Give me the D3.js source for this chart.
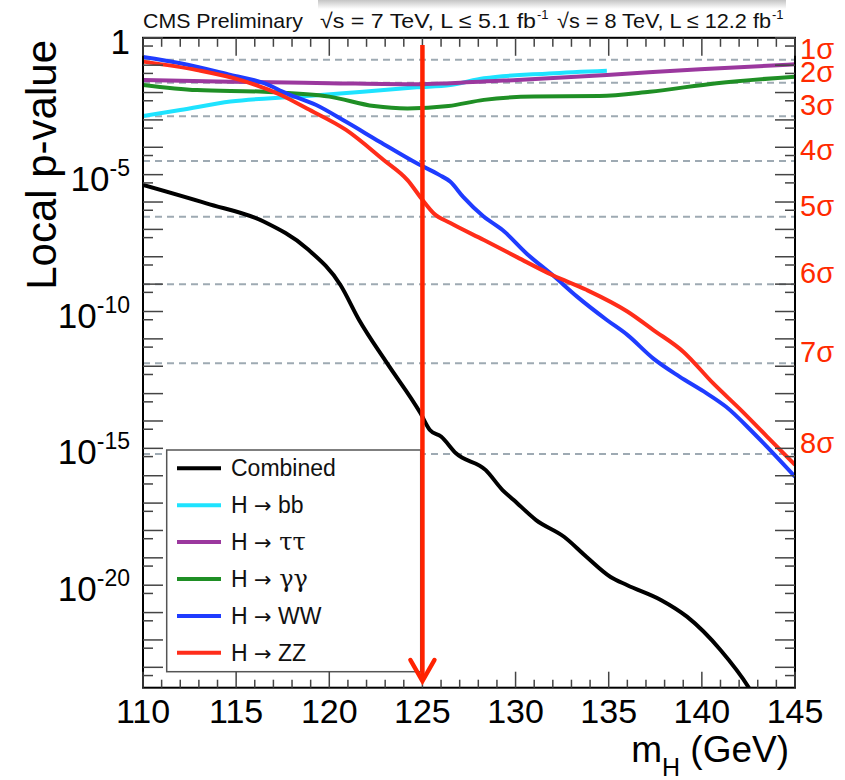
<!DOCTYPE html>
<html>
<head>
<meta charset="utf-8">
<script src="https://cdn.jsdelivr.net/npm/d3@7"></script>
<style>
  html, body { margin: 0; padding: 0; background: #fff; }
  svg { display: block; font-family: "Liberation Sans", Arial, Helvetica, sans-serif; }
</style>
</head>
<body>
<svg id="chart" width="845" height="780"></svg>
<script>
// Higgs boson search: local p-value versus mass hypothesis, per decay channel

const combinedMass = [110.0, 113.4, 116.5, 118.8, 120.6, 121.6, 123.1, 124.9, 125.4, 126.0, 126.8, 128.4, 129.3, 129.9, 131.1, 132.6, 133.8, 135.1, 136.0, 137.8, 139.2, 141.0, 142.5, 143.0];
const combinedP    = [4.2e-6, 8.9e-7, 1.9e-7, 2.0e-8, 9.3e-10, 4.9e-11, 1.3e-12, 1.9e-14, 4.7e-15, 2.7e-15, 6.6e-16, 1.6e-16, 3.0e-17, 1.3e-17, 2.4e-18, 5.9e-19, 1.1e-19, 2.0e-20, 1.0e-20, 2.9e-21, 7.1e-22, 4.3e-23, 1.9e-24, 5.0e-25];

const bbMass = [110.0, 112.0, 114.7, 118.3, 121.8, 124.7, 126.5, 128.3, 131.8, 134.9];
const bbP    = [0.0014, 0.0023, 0.0047, 0.0071, 0.0107, 0.0155, 0.019, 0.033, 0.050, 0.063];

const tautauMass = [110.0, 114.7, 120.0, 124.7, 126.5, 130.1, 134.9, 139.9, 145.0];
const tautauP    = [0.029, 0.025, 0.022, 0.020, 0.022, 0.029, 0.044, 0.071, 0.107];

const gamgamMass = [110.0, 112.9, 116.5, 120.0, 122.4, 124.2, 126.4, 128.3, 131.0, 134.5, 137.2, 140.8, 145.0];
const gamgamP    = [0.019, 0.0123, 0.0107, 0.0071, 0.0032, 0.0026, 0.0032, 0.0054, 0.0071, 0.0074, 0.0107, 0.022, 0.038];

const wwMass = [110.0, 112.0, 114.7, 116.5, 117.7, 119.3, 120.9, 122.7, 124.7, 125.9, 126.5, 127.2, 128.3, 129.3, 130.6, 132.0, 133.3, 134.9, 136.0, 137.4, 138.8, 140.1, 141.3, 142.8, 145.0];
const wwP    = [0.20, 0.117, 0.044, 0.022, 9.3e-3, 3.5e-3, 8.5e-4, 1.6e-4, 2.6e-5, 9.8e-6, 5.5e-6, 1.5e-6, 2.9e-7, 9.5e-8, 1.3e-8, 2.1e-9, 3.5e-10, 4.9e-11, 1.4e-11, 1.9e-12, 4.2e-13, 1.2e-13, 3.3e-14, 3.5e-15, 9.3e-17];

const zzMass = [110.0, 112.9, 115.2, 117.4, 118.8, 120.9, 122.9, 124.2, 125.0, 125.6, 126.5, 128.3, 130.1, 132.0, 133.8, 136.0, 137.4, 139.0, 140.6, 142.1, 143.5, 145.0];
const zzP    = [0.135, 0.066, 0.029, 0.0081, 0.0026, 4.3e-4, 3.5e-5, 6.3e-6, 1.2e-6, 3.9e-7, 1.7e-7, 4.1e-8, 9.5e-9, 2.1e-9, 6.2e-10, 1.0e-10, 2.1e-11, 3.4e-12, 2.4e-13, 2.5e-14, 2.7e-15, 2.5e-16];

// one-sided significance levels and their p-values
const sigmaLevels = [1, 2, 3, 4, 5, 6, 7, 8];
const sigmaP      = [0.1587, 0.02275, 1.35e-3, 3.17e-5, 2.87e-7, 9.87e-10, 1.28e-12, 6.22e-16];

const xTickValues = [110, 115, 120, 125, 130, 135, 140, 145];
const yTickExponents = [0, -5, -10, -15, -20];
const markedMass = 125;

// legend entries: decay products (Greek products set in a serif face)
const channelNames  = ["Combined", "bb", "ττ", "γγ", "WW", "ZZ"];
const channelColors = ["#000000", "#1ee3ff", "#9b389e", "#1f8f25", "#1f3cff", "#ff2d1a"];
const channelData = [
  [combinedMass, combinedP],
  [bbMass, bbP],
  [tautauMass, tautauP],
  [gamgamMass, gamgamP],
  [wwMass, wwP],
  [zzMass, zzP]
];

const svg = d3.select("#chart");
const plotLeft = 143, plotRight = 795, plotTop = 37.8, plotBottom = 687.7;

const x = d3.scaleLinear().domain([110, 145]).range([plotLeft, plotRight]);
const y = d3.scaleLog().domain([1, 1.8e-24]).range([plotTop, plotBottom]);

// faint shadow strip along the top edge
const defs = svg.append("defs");
const grad = defs.append("linearGradient").attr("id", "topShade")
  .attr("x1", 0).attr("y1", 0).attr("x2", 0).attr("y2", 1);
grad.append("stop").attr("offset", "0%").attr("stop-color", "#c4c4c4");
grad.append("stop").attr("offset", "100%").attr("stop-color", "#ffffff");
svg.append("rect").attr("x", 318).attr("y", 0).attr("width", 468).attr("height", 9)
  .attr("fill", "url(#topShade)");

defs.append("clipPath").attr("id", "plotClip")
  .append("rect").attr("x", plotLeft).attr("y", plotTop)
  .attr("width", plotRight - plotLeft).attr("height", plotBottom - plotTop);

// sigma reference lines
svg.append("g").selectAll("line").data(sigmaP).join("line")
  .attr("x1", plotLeft).attr("x2", plotRight)
  .attr("y1", d => y(d)).attr("y2", d => y(d))
  .attr("stroke", "#9eaab3").attr("stroke-width", 2).attr("stroke-dasharray", "7,5");

// channel curves
const line = d3.line().curve(d3.curveMonotoneX);
const curves = svg.append("g").attr("clip-path", "url(#plotClip)");
[1, 2, 3, 4, 5, 0].forEach(i => {
  const [ms, ps] = channelData[i];
  curves.append("path")
    .attr("d", line(ms.map((m, k) => [x(m), y(ps[k])])))
    .attr("fill", "none")
    .attr("stroke", channelColors[i])
    .attr("stroke-width", 4)
    .attr("stroke-linejoin", "round");
});

// legend
const lg = svg.append("g");
lg.append("rect").attr("x", 166.7).attr("y", 450).attr("width", 254).attr("height", 221.7)
  .attr("fill", "#fff").attr("stroke", "#555").attr("stroke-width", 1.5);
channelNames.forEach((name, i) => {
  const ly = 468.3 + i * 36.9;
  lg.append("line").attr("x1", 177).attr("x2", 221).attr("y1", ly).attr("y2", ly)
    .attr("stroke", channelColors[i]).attr("stroke-width", 4);
  const t = lg.append("text").attr("x", 231).attr("y", ly + 8).attr("font-size", 23).attr("fill", "#111");
  if (i === 0) {
    t.text(name);
  } else {
    t.append("tspan").text("H ");
    t.append("tspan").attr("font-family", "'DejaVu Sans', sans-serif").attr("font-size", 21).text("→");
    const greek = name === "ττ" || name === "γγ";
    t.append("tspan")
      .attr("font-family", greek ? "'DejaVu Serif', 'Liberation Serif', serif" : null)
      .attr("font-size", greek ? 24 : null)
      .text(" " + name);
  }
});

// frame
svg.append("rect").attr("x", plotLeft).attr("y", plotTop)
  .attr("width", plotRight - plotLeft).attr("height", plotBottom - plotTop)
  .attr("fill", "none").attr("stroke", "#000").attr("stroke-width", 2);

// x ticks, bottom and top
const ticks = svg.append("g").attr("stroke", "#444").attr("stroke-width", 1.5);
d3.range(110, 146, 1).forEach(m => {
  const major = m % 5 === 0;
  ticks.append("line").attr("x1", x(m)).attr("x2", x(m))
    .attr("y1", plotBottom).attr("y2", plotBottom - (major ? 16 : 8));
  ticks.append("line").attr("x1", x(m)).attr("x2", x(m))
    .attr("y1", plotTop).attr("y2", plotTop + (major ? 18 : 9));
});

// y ticks, left and right: decades long, half-decades short
d3.range(0, -24, -1).forEach(e => {
  const yd = y(Math.pow(10, e));
  ticks.append("line").attr("x1", plotLeft).attr("x2", plotLeft + 20).attr("y1", yd).attr("y2", yd);
  ticks.append("line").attr("x1", plotRight).attr("x2", plotRight - 20).attr("y1", yd).attr("y2", yd);
  const yh = y(5 * Math.pow(10, e - 1));
  if (yh <= plotBottom) {
    ticks.append("line").attr("x1", plotLeft).attr("x2", plotLeft + 10).attr("y1", yh).attr("y2", yh);
    ticks.append("line").attr("x1", plotRight).attr("x2", plotRight - 10).attr("y1", yh).attr("y2", yh);
  }
});

// x tick labels
svg.append("g").selectAll("text").data(xTickValues).join("text")
  .attr("x", d => x(d)).attr("y", 723).attr("text-anchor", "middle")
  .attr("font-size", 34).attr("fill", "#000").text(d => d);

// y tick labels
const yl = svg.append("g");
yTickExponents.forEach(e => {
  const t = yl.append("text").attr("x", 130).attr("y", y(Math.pow(10, e)) + 16)
    .attr("text-anchor", "end").attr("font-size", 35).attr("fill", "#000");
  if (e === 0) {
    t.text("1");
  } else {
    t.append("tspan").text("10");
    t.append("tspan").attr("font-size", 23).attr("dy", -15).text(String(e));
  }
});

// axis titles
svg.append("text").attr("transform", "translate(56,40) rotate(-90)")
  .attr("text-anchor", "end").attr("font-size", 42).attr("fill", "#000").text("Local p-value");

const xt = svg.append("text").attr("x", 789).attr("y", 762).attr("text-anchor", "end")
  .attr("font-size", 37).attr("fill", "#000");
xt.append("tspan").text("m");
xt.append("tspan").attr("font-size", 25).attr("dy", 14).text("H");
xt.append("tspan").attr("dy", -14).text(" (GeV)");

// sigma labels on the right
svg.append("g").selectAll("text").data(sigmaLevels).join("text")
  .attr("x", 800).attr("y", (d, i) => y(sigmaP[i]) - 1)
  .attr("font-size", 29).attr("fill", "#ff2a00")
  .text(d => d + "σ");

// header: experiment tag and the two data-taking periods
const header = svg.append("g").attr("font-size", 21).attr("fill", "#111");
header.append("text").attr("x", 143).attr("y", 28)
  .attr("textLength", 160).attr("lengthAdjust", "spacingAndGlyphs").text("CMS Preliminary");
function runLabel(x0, width, body) {
  header.append("text").attr("x", x0).attr("y", 28)
    .attr("textLength", width).attr("lengthAdjust", "spacingAndGlyphs").text(body);
  header.append("text").attr("x", x0 + width + 1).attr("y", 19).attr("font-size", 13).text("-1");
}
runLabel(320, 216, "√s = 7 TeV, L ≤ 5.1 fb");
runLabel(557, 214, "√s = 8 TeV, L ≤ 12.2 fb");

// marker arrow at the observed mass
const ax = x(markedMass);
const arrow = svg.append("g").attr("stroke", "#ff2200").attr("stroke-width", 4.5).attr("fill", "none");
arrow.append("line").attr("x1", ax).attr("x2", ax).attr("y1", 45).attr("y2", 680);
arrow.append("path")
  .attr("d", `M${ax - 12},660 L${ax},681 L${ax + 12},660`)
  .attr("stroke-linejoin", "miter").attr("stroke-linecap", "round");
</script>
</body>
</html>
